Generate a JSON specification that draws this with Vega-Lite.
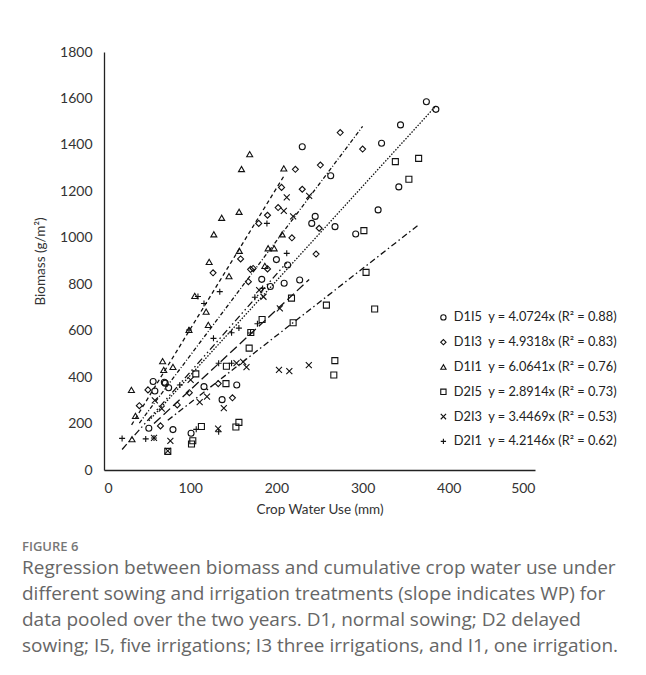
{
  "$schema": "https://vega.github.io/schema/vega-lite/v6.json",
  "width": 431,
  "height": 418,
  "autosize": "none",
  "padding": {"left": 104, "top": 52, "right": 111, "bottom": 205},
  "background": "white",
  "config": {
    "view": {"stroke": null},
    "font": "Lato",
    "axis": {"grid": false, "ticks": false, "domainColor": "#222", "domainWidth": 1.3, "labelColor": "#333", "titleColor": "#333", "labelFontSize": 14, "titleFontSize": 13.5, "titleFontWeight": "normal", "labelFont": "Lato", "titleFont": "Lato"},
    "legend": {"labelFontSize": 12.8, "labelFont": "Lato", "labelColor": "#222", "labelOffset": 4, "rowPadding": 10.8, "labelLimit": 300, "symbolSize": 28, "symbolStrokeColor": "#111", "symbolStrokeWidth": 1.1, "padding": 0}
  },
  "title": {
    "text": "FIGURE 6",
    "subtitle": [
      "Regression between biomass and cumulative crop water use under",
      "different sowing and irrigation treatments (slope indicates WP) for",
      "data pooled over the two years. D1, normal sowing; D2 delayed",
      "sowing; I5, five irrigations; I3 three irrigations, and I1, one irrigation."
    ],
    "orient": "bottom",
    "anchor": "start",
    "frame": "group",
    "dx": -82,
    "offset": 25,
    "font": "Open Sans",
    "fontSize": 13,
    "fontWeight": 600,
    "color": "#777",
    "subtitleFont": "Open Sans",
    "subtitleFontSize": 19,
    "subtitleColor": "#666",
    "subtitleLineHeight": 26,
    "subtitlePadding": 5
  },
  "datasets": {
    "lines": [
      {"trt": "fit D1I5", "cwu": 52, "biomass": 211.8},
      {"trt": "fit D1I5", "cwu": 385, "biomass": 1567.9},
      {"trt": "fit D1I3", "cwu": 41, "biomass": 202.2},
      {"trt": "fit D1I3", "cwu": 300, "biomass": 1479.5},
      {"trt": "fit D1I1", "cwu": 32, "biomass": 194.1},
      {"trt": "fit D1I1", "cwu": 208.6, "biomass": 1265.0},
      {"trt": "fit D2I5", "cwu": 74, "biomass": 214.0},
      {"trt": "fit D2I5", "cwu": 365, "biomass": 1055.4},
      {"trt": "fit D2I3", "cwu": 58, "biomass": 199.9},
      {"trt": "fit D2I3", "cwu": 238, "biomass": 820.4},
      {"trt": "fit D2I1", "cwu": 21, "biomass": 88.5},
      {"trt": "fit D2I1", "cwu": 212, "biomass": 893.5}
    ],
    "pts": [
      {"series": "D1I5", "cwu": 52, "biomass": 180},
      {"series": "D1I5", "cwu": 80, "biomass": 174},
      {"series": "D1I5", "cwu": 101, "biomass": 158},
      {"series": "D1I5", "cwu": 57, "biomass": 381},
      {"series": "D1I5", "cwu": 59, "biomass": 340},
      {"series": "D1I5", "cwu": 70, "biomass": 378},
      {"series": "D1I5", "cwu": 71, "biomass": 374},
      {"series": "D1I5", "cwu": 75, "biomass": 354},
      {"series": "D1I5", "cwu": 116, "biomass": 359},
      {"series": "D1I5", "cwu": 154, "biomass": 366},
      {"series": "D1I5", "cwu": 137, "biomass": 303},
      {"series": "D1I5", "cwu": 183, "biomass": 821},
      {"series": "D1I5", "cwu": 193, "biomass": 790},
      {"series": "D1I5", "cwu": 209, "biomass": 804},
      {"series": "D1I5", "cwu": 227, "biomass": 818},
      {"series": "D1I5", "cwu": 200, "biomass": 906},
      {"series": "D1I5", "cwu": 213, "biomass": 883},
      {"series": "D1I5", "cwu": 245, "biomass": 1092},
      {"series": "D1I5", "cwu": 241, "biomass": 1062},
      {"series": "D1I5", "cwu": 268, "biomass": 1048},
      {"series": "D1I5", "cwu": 292, "biomass": 1016},
      {"series": "D1I5", "cwu": 263, "biomass": 1267},
      {"series": "D1I5", "cwu": 230, "biomass": 1392},
      {"series": "D1I5", "cwu": 318, "biomass": 1120},
      {"series": "D1I5", "cwu": 342, "biomass": 1219},
      {"series": "D1I5", "cwu": 322, "biomass": 1407},
      {"series": "D1I5", "cwu": 344, "biomass": 1486},
      {"series": "D1I5", "cwu": 374, "biomass": 1586},
      {"series": "D1I5", "cwu": 385, "biomass": 1553},
      {"series": "D1I3", "cwu": 65.5, "biomass": 190},
      {"series": "D1I3", "cwu": 41, "biomass": 277},
      {"series": "D1I3", "cwu": 51, "biomass": 345},
      {"series": "D1I3", "cwu": 85, "biomass": 280},
      {"series": "D1I3", "cwu": 99, "biomass": 333},
      {"series": "D1I3", "cwu": 132.5, "biomass": 372},
      {"series": "D1I3", "cwu": 149, "biomass": 311},
      {"series": "D1I3", "cwu": 126.5, "biomass": 849},
      {"series": "D1I3", "cwu": 158.5, "biomass": 909},
      {"series": "D1I3", "cwu": 167.5, "biomass": 811},
      {"series": "D1I3", "cwu": 170, "biomass": 864},
      {"series": "D1I3", "cwu": 173, "biomass": 868},
      {"series": "D1I3", "cwu": 189.7, "biomass": 866},
      {"series": "D1I3", "cwu": 179.5, "biomass": 1062},
      {"series": "D1I3", "cwu": 189.7, "biomass": 1097},
      {"series": "D1I3", "cwu": 202, "biomass": 1130},
      {"series": "D1I3", "cwu": 206, "biomass": 1217},
      {"series": "D1I3", "cwu": 230, "biomass": 1209},
      {"series": "D1I3", "cwu": 222, "biomass": 1295},
      {"series": "D1I3", "cwu": 251, "biomass": 1313},
      {"series": "D1I3", "cwu": 274, "biomass": 1453},
      {"series": "D1I3", "cwu": 300, "biomass": 1382},
      {"series": "D1I3", "cwu": 218, "biomass": 1000},
      {"series": "D1I3", "cwu": 246, "biomass": 930},
      {"series": "D1I3", "cwu": 249.6, "biomass": 1041},
      {"series": "D1I1", "cwu": 32.5, "biomass": 133},
      {"series": "D1I1", "cwu": 31.8, "biomass": 345},
      {"series": "D1I1", "cwu": 36.5, "biomass": 233},
      {"series": "D1I1", "cwu": 68, "biomass": 469},
      {"series": "D1I1", "cwu": 69.3, "biomass": 431},
      {"series": "D1I1", "cwu": 80, "biomass": 444},
      {"series": "D1I1", "cwu": 98.6, "biomass": 603},
      {"series": "D1I1", "cwu": 105.3, "biomass": 750},
      {"series": "D1I1", "cwu": 118.5, "biomass": 682},
      {"series": "D1I1", "cwu": 121, "biomass": 625},
      {"series": "D1I1", "cwu": 122, "biomass": 896},
      {"series": "D1I1", "cwu": 127.4, "biomass": 1015},
      {"series": "D1I1", "cwu": 136.5, "biomass": 1086},
      {"series": "D1I1", "cwu": 145, "biomass": 835},
      {"series": "D1I1", "cwu": 156.7, "biomass": 1112},
      {"series": "D1I1", "cwu": 157, "biomass": 944},
      {"series": "D1I1", "cwu": 159.5, "biomass": 1296},
      {"series": "D1I1", "cwu": 169, "biomass": 1360},
      {"series": "D1I1", "cwu": 186.6, "biomass": 879},
      {"series": "D1I1", "cwu": 190.4, "biomass": 955},
      {"series": "D1I1", "cwu": 197.4, "biomass": 955},
      {"series": "D1I1", "cwu": 206.7, "biomass": 1015},
      {"series": "D1I1", "cwu": 208.6, "biomass": 1299},
      {"series": "D2I5", "cwu": 74, "biomass": 80},
      {"series": "D2I5", "cwu": 101.5, "biomass": 112},
      {"series": "D2I5", "cwu": 103, "biomass": 126},
      {"series": "D2I5", "cwu": 113, "biomass": 187},
      {"series": "D2I5", "cwu": 153, "biomass": 185},
      {"series": "D2I5", "cwu": 156.5, "biomass": 205},
      {"series": "D2I5", "cwu": 106.5, "biomass": 414},
      {"series": "D2I5", "cwu": 141.5, "biomass": 372},
      {"series": "D2I5", "cwu": 142, "biomass": 447},
      {"series": "D2I5", "cwu": 168.4, "biomass": 525},
      {"series": "D2I5", "cwu": 170.3, "biomass": 592},
      {"series": "D2I5", "cwu": 183.4, "biomass": 648},
      {"series": "D2I5", "cwu": 217.5, "biomass": 740},
      {"series": "D2I5", "cwu": 219.4, "biomass": 634},
      {"series": "D2I5", "cwu": 258, "biomass": 710},
      {"series": "D2I5", "cwu": 267.8, "biomass": 471},
      {"series": "D2I5", "cwu": 266.6, "biomass": 409},
      {"series": "D2I5", "cwu": 314, "biomass": 693},
      {"series": "D2I5", "cwu": 304, "biomass": 851},
      {"series": "D2I5", "cwu": 301.5, "biomass": 1031},
      {"series": "D2I5", "cwu": 338, "biomass": 1328},
      {"series": "D2I5", "cwu": 365, "biomass": 1342},
      {"series": "D2I5", "cwu": 353.7, "biomass": 1252},
      {"series": "D2I3", "cwu": 74, "biomass": 82},
      {"series": "D2I3", "cwu": 58, "biomass": 138},
      {"series": "D2I3", "cwu": 77, "biomass": 125},
      {"series": "D2I3", "cwu": 132.4, "biomass": 178},
      {"series": "D2I3", "cwu": 59, "biomass": 300},
      {"series": "D2I3", "cwu": 67, "biomass": 264},
      {"series": "D2I3", "cwu": 100.5, "biomass": 388},
      {"series": "D2I3", "cwu": 111, "biomass": 292},
      {"series": "D2I3", "cwu": 119.5, "biomass": 316},
      {"series": "D2I3", "cwu": 139, "biomass": 266},
      {"series": "D2I3", "cwu": 153.7, "biomass": 460},
      {"series": "D2I3", "cwu": 161.4, "biomass": 466},
      {"series": "D2I3", "cwu": 165.3, "biomass": 443},
      {"series": "D2I3", "cwu": 203, "biomass": 431},
      {"series": "D2I3", "cwu": 215, "biomass": 426},
      {"series": "D2I3", "cwu": 237.6, "biomass": 452},
      {"series": "D2I3", "cwu": 204, "biomass": 696},
      {"series": "D2I3", "cwu": 180, "biomass": 775},
      {"series": "D2I3", "cwu": 185, "biomass": 746},
      {"series": "D2I3", "cwu": 208.6, "biomass": 1116},
      {"series": "D2I3", "cwu": 212, "biomass": 1174},
      {"series": "D2I3", "cwu": 219.4, "biomass": 1092},
      {"series": "D2I3", "cwu": 238, "biomass": 1180},
      {"series": "D2I1", "cwu": 21, "biomass": 136},
      {"series": "D2I1", "cwu": 48.4, "biomass": 134},
      {"series": "D2I1", "cwu": 58, "biomass": 138},
      {"series": "D2I1", "cwu": 107, "biomass": 175},
      {"series": "D2I1", "cwu": 133, "biomass": 165},
      {"series": "D2I1", "cwu": 88, "biomass": 366},
      {"series": "D2I1", "cwu": 98.6, "biomass": 603},
      {"series": "D2I1", "cwu": 109, "biomass": 747},
      {"series": "D2I1", "cwu": 116, "biomass": 717},
      {"series": "D2I1", "cwu": 134.3, "biomass": 768},
      {"series": "D2I1", "cwu": 127, "biomass": 567},
      {"series": "D2I1", "cwu": 133, "biomass": 460},
      {"series": "D2I1", "cwu": 148, "biomass": 591},
      {"series": "D2I1", "cwu": 156.5, "biomass": 611},
      {"series": "D2I1", "cwu": 148, "biomass": 460},
      {"series": "D2I1", "cwu": 170, "biomass": 590},
      {"series": "D2I1", "cwu": 178, "biomass": 630},
      {"series": "D2I1", "cwu": 175, "biomass": 744},
      {"series": "D2I1", "cwu": 184, "biomass": 782},
      {"series": "D2I1", "cwu": 189, "biomass": 1062},
      {"series": "D2I1", "cwu": 212, "biomass": 933}
    ]
  },
  "layer": [
    {
      "data": {"name": "lines"},
      "mark": {"type": "line", "color": "#111", "strokeWidth": 1.3},
      "encoding": {
        "x": {"field": "cwu", "type": "quantitative", "scale": {"domain": [0, 500], "nice": false}, "axis": {"values": [0, 100, 200, 300, 400, 500], "title": "Crop Water Use (mm)", "labelPadding": 11, "titlePadding": 7}},
        "y": {"field": "biomass", "type": "quantitative", "scale": {"domain": [0, 1800], "nice": false}, "axis": {"values": [0, 200, 400, 600, 800, 1000, 1200, 1400, 1600, 1800], "format": "d", "title": "Biomass (g/m²)", "labelPadding": 12, "titlePadding": 12}},
        "strokeDash": {"field": "trt", "type": "nominal", "scale": {"domain": ["fit D1I5", "fit D1I3", "fit D1I1", "fit D2I5", "fit D2I3", "fit D2I1"], "range": [[1.5, 1.5], [4, 2, 1, 2], [4, 3], [6, 3, 1.5, 3], [9, 4], [7, 3, 1.5, 3, 1.5, 3]]}, "legend": null}
      }
    },
    {
      "data": {"name": "pts"},
      "mark": {"type": "point", "filled": false, "color": "#111", "strokeWidth": 1.1, "size": 36, "opacity": 1},
      "encoding": {
        "x": {"field": "cwu", "type": "quantitative"},
        "y": {"field": "biomass", "type": "quantitative"},
        "shape": {
          "field": "series", "type": "nominal",
          "scale": {"domain": ["D1I5", "D1I3", "D1I1", "D2I5", "D2I3", "D2I1"], "range": ["circle", "diamond", "triangle-up", "square", "M-1,-1L1,1M-1,1L1,-1", "M-1,0L1,0M0,-1L0,1"]},
          "legend": {
            "orient": "none", "legendX": 333, "legendY": 259, "title": null,
            "labelExpr": "datum.label == 'D1I5' ? 'D1I5\u00a0\u00a0y = 4.0724x (R² = 0.88)' : datum.label == 'D1I3' ? 'D1I3\u00a0\u00a0y = 4.9318x (R² = 0.83)' : datum.label == 'D1I1' ? 'D1I1\u00a0\u00a0y = 6.0641x (R² = 0.76)' : datum.label == 'D2I5' ? 'D2I5\u00a0\u00a0y = 2.8914x (R² = 0.73)' : datum.label == 'D2I3' ? 'D2I3\u00a0\u00a0y = 3.4469x (R² = 0.53)' : 'D2I1\u00a0\u00a0y = 4.2146x (R² = 0.62)'"
          }
        }
      }
    }
  ]
}
